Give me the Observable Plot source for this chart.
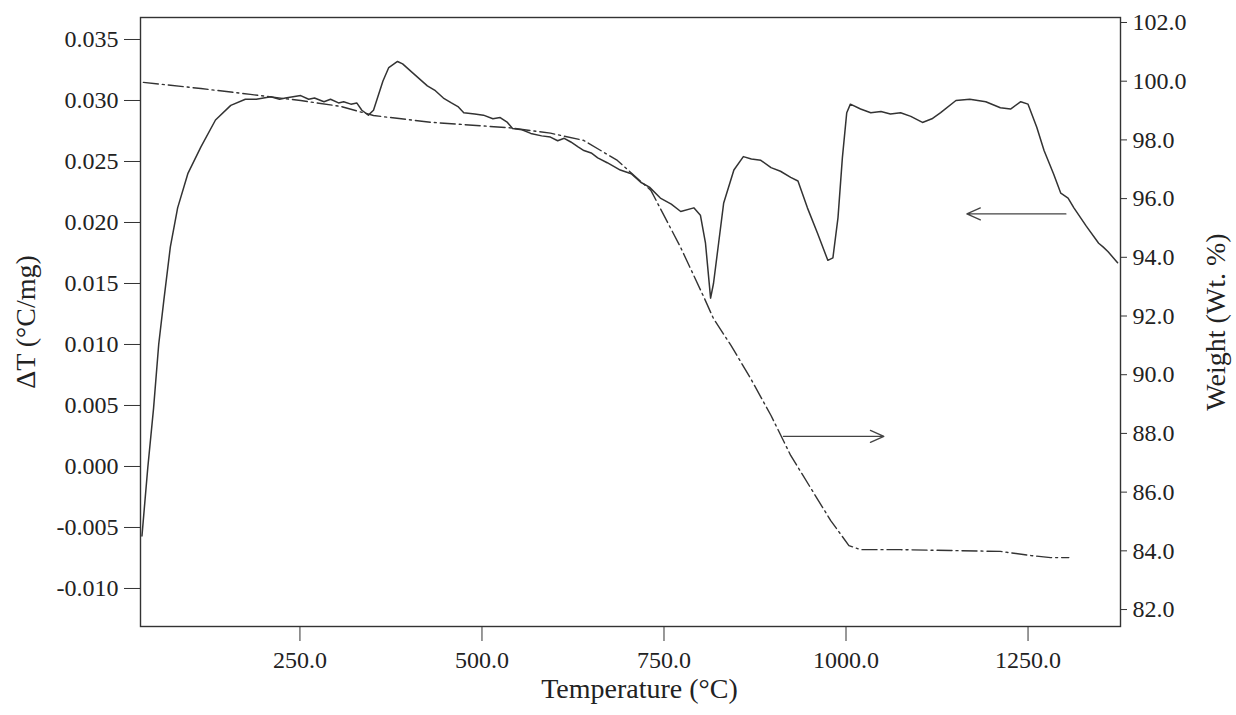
<!DOCTYPE html>
<html>
<head>
<meta charset="utf-8">
<script src="https://cdn.jsdelivr.net/npm/d3@7"></script>
<script src="https://cdn.jsdelivr.net/npm/@observablehq/plot@0.6"></script>
<style>
  html, body { margin: 0; padding: 0; background: #fff; }
  #chart svg { display: block; }
</style>
</head>
<body>
<div id="chart"></div>
<script>
// ---- Data ----
// DTA curve (solid): temperature (°C) and ΔT (°C/mg)
const dtaTemp = [33, 41, 49, 56, 63, 72, 82, 96, 114, 134, 155, 175, 190, 210, 222, 230, 251, 262, 270, 283, 292, 303, 310, 320, 328, 335, 344, 351, 364, 372, 384, 391, 406, 425, 436, 447, 458, 467, 475, 490, 502, 515, 525, 535, 542, 555, 567, 582, 594, 604, 613, 622, 632, 640, 650, 659, 672, 690, 705, 718, 730, 745, 760, 773, 791, 800, 807, 814, 818, 825, 832, 846, 859, 870, 883, 897, 910, 924, 934, 947, 961, 975, 982, 989, 995, 1001, 1006, 1020, 1034, 1048, 1061, 1075, 1089, 1105, 1118, 1130, 1151, 1170, 1192, 1212, 1226, 1240, 1250, 1262, 1272, 1285, 1295, 1305, 1313, 1330, 1347, 1353, 1360, 1373];
const dtaValue = [-0.0057, -0.0001, 0.0048, 0.0100, 0.0136, 0.0180, 0.0212, 0.0240, 0.0262, 0.0284, 0.0296, 0.0301, 0.0301, 0.0303, 0.0301, 0.0302, 0.0304, 0.0301, 0.0302, 0.0299, 0.0301, 0.0298, 0.0299, 0.0297, 0.0298, 0.0292, 0.0288, 0.0292, 0.0316, 0.0327, 0.0332, 0.0330, 0.0322, 0.0312, 0.0308, 0.0302, 0.0298, 0.0295, 0.0290, 0.0289, 0.0288, 0.0285, 0.0286, 0.0282, 0.0277, 0.0276, 0.0273, 0.0271, 0.0270, 0.0267, 0.0269, 0.0266, 0.0262, 0.0259, 0.0257, 0.0253, 0.0249, 0.0243, 0.0240, 0.0233, 0.0229, 0.0220, 0.0215, 0.0209, 0.0212, 0.0206, 0.0183, 0.0138, 0.0150, 0.0183, 0.0216, 0.0243, 0.0254, 0.0252, 0.0251, 0.0245, 0.0242, 0.0237, 0.0234, 0.0212, 0.0191, 0.0169, 0.0171, 0.0204, 0.0253, 0.0290, 0.0297, 0.0293, 0.0290, 0.0291, 0.0289, 0.0290, 0.0287, 0.0282, 0.0285, 0.0290, 0.0300, 0.0301, 0.0299, 0.0294, 0.0293, 0.0299, 0.0297, 0.0278, 0.0259, 0.0240, 0.0224, 0.0220, 0.0212, 0.0197, 0.0183, 0.0180, 0.0176, 0.0167];

// TGA curve (dash-dot): temperature (°C) and weight (Wt. %)
const tgaTemp = [35, 114, 182, 251, 306, 351, 430, 539, 594, 640, 686, 732, 773, 805, 818, 842, 869, 897, 924, 952, 979, 1004, 1020, 1075, 1144, 1212, 1254, 1281, 1306];
const tgaWeight = [99.96, 99.75, 99.55, 99.34, 99.14, 98.83, 98.60, 98.41, 98.23, 97.98, 97.30, 96.28, 94.33, 92.63, 91.91, 91.00, 89.87, 88.61, 87.25, 86.12, 85.03, 84.18, 84.04, 84.04, 84.01, 83.98, 83.84, 83.77, 83.77];

// Arrows: DTA arrow points left (toward left axis), TGA arrow points right
const dtaArrowT = [1302, 1166];   // tail, tip
const dtaArrowV = 0.0207;
const tgaArrowT = [914, 1052];    // tail, tip
const tgaArrowW = 87.9;

// Axis ticks
const xTicks = [250, 500, 750, 1000, 1250];
const dtTicks = [-0.010, -0.005, 0.000, 0.005, 0.010, 0.015, 0.020, 0.025, 0.030, 0.035];
const wTicks = [82, 84, 86, 88, 90, 92, 94, 96, 98, 100, 102];

// Axis domains (the visible frame)
const xDomain = [31, 1377];
const dtDomain = [-0.013117, 0.036803];
const wDomain = [81.422, 102.170];

// Map weight onto the ΔT scale so both share the frame
const w2dt = d3.scaleLinear().domain(wDomain).range(dtDomain);

const dta = dtaTemp.map((t, i) => ({T: t, v: dtaValue[i]}));
const tga = tgaTemp.map((t, i) => ({T: t, v: w2dt(tgaWeight[i])}));
const arrows = [
  {x1: dtaArrowT[0], x2: dtaArrowT[1], y1: dtaArrowV, y2: dtaArrowV},
  {x1: tgaArrowT[0], x2: tgaArrowT[1], y1: w2dt(tgaArrowW), y2: w2dt(tgaArrowW)}
];

const ink = "#333";
const font = "'Liberation Serif', 'DejaVu Serif', serif";

const chart = Plot.plot({
  width: 1236,
  height: 715,
  marginLeft: 140,
  marginRight: 116,
  marginTop: 17,
  marginBottom: 89,
  style: {fontFamily: font, fontSize: "24px", color: "#222", background: "#fff"},
  x: {domain: xDomain},
  y: {domain: dtDomain},
  marks: [
    Plot.frame({stroke: ink, strokeWidth: 1.4}),
    Plot.axisX({ticks: xTicks, tickFormat: d => d.toFixed(1), tickSize: 15, tickPadding: 9, label: null, stroke: ink, fontSize: 24}),
    Plot.axisY({anchor: "left", ticks: dtTicks, tickFormat: d => d.toFixed(3), tickSize: 16, tickPadding: 6, label: null, stroke: ink, fontSize: 24}),
    Plot.axisY({anchor: "right", ticks: wTicks.map(w => w2dt(w)), tickFormat: d => w2dt.invert(d).toFixed(1), tickSize: 6, tickPadding: 6, label: null, stroke: ink, fontSize: 24}),
    Plot.line(dta, {x: "T", y: "v", stroke: "#333", strokeWidth: 1.5}),
    Plot.line(tga, {x: "T", y: "v", stroke: "#333", strokeWidth: 1.4, strokeDasharray: "15,4,2,4"}),
    Plot.arrow(arrows, {x1: "x1", y1: "y1", x2: "x2", y2: "y2", stroke: "#444", strokeWidth: 1.3, headLength: 17, headAngle: 48}),
    Plot.text(["Temperature (°C)"], {frameAnchor: "bottom", textAnchor: "middle", dx: 9, dy: 71, fontSize: 28, fill: "#222"}),
    Plot.text(["ΔT (°C/mg)"], {frameAnchor: "left", textAnchor: "middle", dx: -114, rotate: -90, fontSize: 28, fill: "#222"}),
    Plot.text(["Weight (Wt. %)"], {frameAnchor: "right", textAnchor: "middle", dx: 96, rotate: -90, fontSize: 28, fill: "#222"})
  ]
});

document.getElementById("chart").appendChild(chart);
</script>
</body>
</html>
